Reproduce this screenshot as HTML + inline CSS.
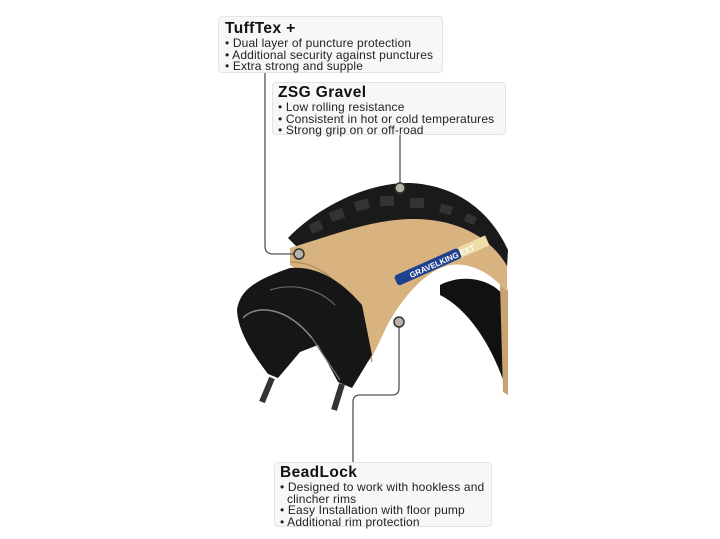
<!DOCTYPE html>
<html><head><meta charset="utf-8"><style>
html,body{margin:0;padding:0;background:#fff;}
body{width:720px;height:539px;position:relative;overflow:hidden;font-family:"Liberation Sans",sans-serif;color:#222;}
.box{position:absolute;background:#f7f7f7;border:1px solid #e4e4e4;border-radius:4px;box-sizing:border-box;}
.box h3{margin:0;font-size:15.5px;font-weight:bold;color:#111;line-height:18px;letter-spacing:0.4px;}
.box div{font-size:12px;line-height:11.6px;white-space:nowrap;letter-spacing:0.15px;}
svg{position:absolute;left:0;top:0;}
</style></head><body>
<svg width="720" height="539" viewBox="0 0 720 539">
 <path d="M440,285 C470,270 500,285 506,300 L508,395 C495,350 470,310 440,295 Z" fill="#111"/>
 <path d="M500,285 L508,290 L508,395 L503,392 Z" fill="#c9a36f"/>
 <path d="M288,238 C320,205 370,182 410,183 C455,185 490,210 508,250 L507,268 C480,232 440,218 400,222 C360,228 330,240 305,255 Z" fill="#1a1a1a"/>
 <g fill="#333">
  <rect x="330" y="210" width="14" height="10" transform="rotate(-20 337 215)"/>
  <rect x="355" y="200" width="14" height="10" transform="rotate(-15 362 205)"/>
  <rect x="380" y="196" width="14" height="10"/>
  <rect x="410" y="198" width="14" height="10"/>
  <rect x="440" y="205" width="12" height="9" transform="rotate(15 446 209)"/>
  <rect x="465" y="215" width="11" height="8" transform="rotate(25 470 219)"/>
  <rect x="310" y="222" width="12" height="10" transform="rotate(-25 316 227)"/>
 </g>
 <path d="M290,248 C330,236 370,220 410,219 C455,218 490,236 507,266 L507,292 C490,272 470,262 450,265 C425,270 400,300 385,330 C378,345 372,358 368,362 C355,330 330,290 290,265 Z" fill="#d8b27f"/>
 <path d="M290,262 C330,262 360,300 372,362" fill="none" stroke="#b08a58" stroke-width="1.2"/>
 <g transform="rotate(-24 440 262)">
  <rect x="392" y="256" width="70" height="11" rx="3" fill="#1f3f8f"/>
  <rect x="462" y="256" width="30" height="11" fill="#f0dca8"/>
  <text x="407" y="265" font-size="8" fill="#fff" font-weight="bold" font-family="Liberation Sans,sans-serif">GRAVELKING EXT</text>
 </g>
 <path d="M237,310 C240,290 255,280 290,268 C320,265 345,285 362,305 L372,355 L352,388 L338,382 L318,345 L300,352 L278,378 L268,374 C250,350 238,330 237,310 Z" fill="#161616"/>
 <path d="M243,318 C255,305 285,305 312,338" fill="none" stroke="#888" stroke-width="1.5"/>
 <path d="M270,290 C295,282 320,290 335,305" fill="none" stroke="#666" stroke-width="1.2"/>
 <path d="M312,338 L340,380" stroke="#777" stroke-width="1.2"/>
 <path d="M272,378 L262,402" stroke="#333" stroke-width="6"/>
 <path d="M342,384 L334,410" stroke="#333" stroke-width="6"/>
 <g fill="none" stroke="#555" stroke-width="1.3">
  <path d="M265,72 V246 Q265,254 273,254 H294"/>
  <path d="M400,134 V183"/>
  <path d="M399,327 V388 Q399,395 392,395 H360 Q353,395 353,402 V463"/>
 </g>
 <g fill="#b9b2a6" stroke="#333" stroke-width="1.5">
  <circle cx="299" cy="254" r="5"/>
  <circle cx="400" cy="188" r="5"/>
  <circle cx="399" cy="322" r="5"/>
 </g>
</svg>
<div class="box" style="left:218px;top:16px;width:225px;height:57px;padding:3px 0 0 6px;">
<h3>TuffTex +</h3>
<div>• Dual layer of puncture protection</div>
<div>• Additional security against punctures</div>
<div>• Extra strong and supple</div>
</div>
<div class="box" style="left:272px;top:82px;width:234px;height:53px;padding:1px 0 0 5px;">
<h3>ZSG Gravel</h3>
<div>• Low rolling resistance</div>
<div>• Consistent in hot or cold temperatures</div>
<div>• Strong grip on or off-road</div>
</div>
<div class="box" style="left:274px;top:462px;width:218px;height:65px;padding:1px 0 0 5px;">
<h3>BeadLock</h3>
<div>• Designed to work with hookless and</div>
<div>&nbsp;&nbsp;clincher rims</div>
<div>• Easy Installation with floor pump</div>
<div>• Additional rim protection</div>
</div>
</body></html>
